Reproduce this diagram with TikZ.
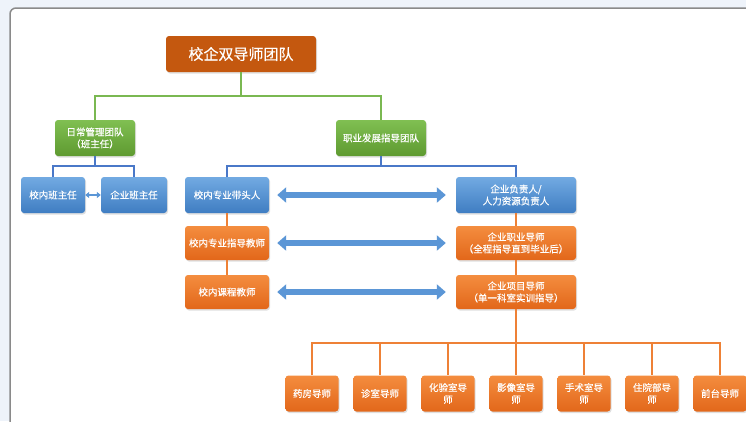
\documentclass[tikz,border=0pt]{standalone}
\usepackage{fontspec}
\newfontfamily\cjk{Noto Sans CJK SC}[FakeBold=0.6]
\usetikzlibrary{arrows.meta,positioning,calc,shadows}
\definecolor{pagebg}{HTML}{EEF3FA}
\definecolor{framegray}{HTML}{8A8A8A}
\definecolor{titlecol}{HTML}{C4580F}
\definecolor{greentop}{HTML}{80BF52}
\definecolor{greenbot}{HTML}{5E9A30}
\definecolor{greenline}{HTML}{7AB851}
\definecolor{bluetop}{HTML}{72AAE2}
\definecolor{bluebot}{HTML}{3F7DC2}
\definecolor{blueline}{HTML}{4A78C8}
\definecolor{orangetop}{HTML}{F48D3F}
\definecolor{orangebot}{HTML}{E2671A}
\definecolor{orangeline}{HTML}{EE8136}
\definecolor{arrowblue}{HTML}{5B96D6}

\begin{document}
\begin{tikzpicture}[x=1pt, y=-1pt,
    >={Triangle[length=9pt, width=15pt]},
    unit/.style={rounded corners=3pt, text=white, align=center, inner sep=1pt,
      font=\cjk\fontsize{9.5}{12}\selectfont,
      drop shadow={opacity=0.25, shadow xshift=1pt, shadow yshift=-1.5pt}},
    titlebox/.style={unit, fill=titlecol, minimum width=150pt, minimum height=36pt,
      font=\cjk\fontsize{15}{18}\selectfont},
    greenbox/.style={unit, top color=greentop, bottom color=greenbot, minimum height=36pt},
    bluebox/.style={unit, top color=bluetop, bottom color=bluebot, minimum height=36pt},
    orangebox/.style={unit, top color=orangetop, bottom color=orangebot, minimum height=34pt},
    gline/.style={draw=greenline, line width=1.5pt},
    bline/.style={draw=blueline, line width=1.5pt},
    oline/.style={draw=orangeline, line width=1.5pt},
    link/.style={draw=arrowblue, line width=5.5pt, <->}]
    % --- page and frame ---
    \useasboundingbox (0,0) rectangle (746,421);
    \fill[pagebg] (0,0) rectangle (746,421);
    \draw[framegray, fill=white, line width=1.5pt, rounded corners=6pt] (10,8) rectangle (760,440);
    % --- top levels ---
    \node[titlebox] (team) at (241,54) {校企双导师团队};
    \node[greenbox, minimum width=80pt] (daily) at (95,138) {日常管理团队\\（班主任）};
    \node[greenbox, minimum width=90pt] (career) at (381,138) {职业发展指导团队};
    % --- class teachers ---
    \node[bluebox, minimum width=64pt] (schoolcls) at (53,195) {校内班主任};
    \node[bluebox, minimum width=66pt] (firmcls) at (134,195) {企业班主任};
    % --- paired mentors ---
    \node[bluebox, minimum width=84pt] (schoollead) at (227,195) {校内专业带头人};
    \node[bluebox, minimum width=120pt] (firmlead) at (516,195) {企业负责人/\\人力资源负责人};
    \node[orangebox, minimum width=84pt] (schoolguide) at (227,243) {校内专业指导教师};
    \node[orangebox, minimum width=120pt] (firmguide) at (516,243) {企业职业导师\\（全程指导直到毕业后）};
    \node[orangebox, minimum width=84pt] (schoolcourse) at (227,292) {校内课程教师};
    \node[orangebox, minimum width=120pt] (firmproject) at (516,292) {企业项目导师\\（单一科室实训指导）};
    % --- department mentors ---
    \foreach \name/\txt [count=\i from 0] in {pharm/药房导师, clinic/诊室导师, lab/化验室导\\师,
        imaging/影像室导\\师, surgery/手术室导\\师, ward/住院部导\\师, desk/前台导师}
      \node[orangebox, minimum width=53pt, minimum height=36pt] (\name) at (312+68*\i,393.5) {\txt};
    % --- tree connectors ---
    \coordinate (topfork) at ($(team.south)+(0,24)$);
    \draw[gline] (team.south) -- (topfork) -| (daily.north);
    \draw[gline] (topfork) -| (career.north);
    \draw[bline] (daily.south) -- ++(0,10) -| (schoolcls.north);
    \draw[bline] (daily.south) -- ++(0,10) -| (firmcls.north);
    \draw[bline] (career.south) -- ++(0,10) -| (schoollead.north);
    \draw[bline] (career.south) -- ++(0,10) -| (firmlead.north);
    \draw[oline] (schoollead.south) -- (schoolguide.north);
    \draw[oline] (schoolguide.south) -- (schoolcourse.north);
    \draw[oline] (firmlead.south) -- (firmguide.north);
    \draw[oline] (firmguide.south) -- (firmproject.north);
    \coordinate (lowfork) at ($(firmproject.south)+(0,34)$);
    \draw[oline] (firmproject.south) -- (lowfork);
    \draw[oline] (pharm.north) |- (lowfork) -| (desk.north);
    \foreach \name in {clinic, lab, imaging, surgery, ward}
      \draw[oline] (lowfork -| \name.north) -- (\name.north);
    % --- two-way links ---
    \draw[draw=arrowblue, line width=2.5pt, {Triangle[length=4pt, width=6pt]}-{Triangle[length=4pt, width=6pt]}]
      (schoolcls.east) -- (firmcls.west);
    \draw[link] ([xshift=8pt]schoollead.east) -- ([xshift=-10pt]firmlead.west);
    \draw[link] ([xshift=8pt]schoolguide.east) -- ([xshift=-10pt]firmguide.west);
    \draw[link] ([xshift=8pt]schoolcourse.east) -- ([xshift=-10pt]firmproject.west);
\end{tikzpicture}
\end{document}
